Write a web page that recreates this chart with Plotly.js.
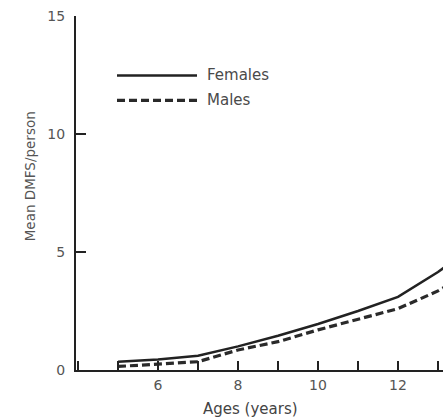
<!DOCTYPE html>
<html>
<head>
<meta charset="utf-8">
<script src="https://cdn.plot.ly/plotly-3.0.1.min.js"></script>
<style>html,body{margin:0;padding:0;background:#fff;overflow:hidden}#chart{width:443px;height:419px}</style>
</head>
<body>
<div id="chart"></div>
<script>
// Data
const ages = [5, 6, 7, 8, 9, 10, 11, 12, 13, 13.2];
const females = [0.35, 0.45, 0.6, 1.0, 1.45, 1.95, 2.5, 3.1, 4.15, 4.4];
const males = [0.15, 0.25, 0.35, 0.85, 1.2, 1.7, 2.15, 2.6, 3.35, 3.55];
const seriesNames = ['Females', 'Males'];
const xTickVals = [4, 5, 6, 7, 8, 9, 10, 11, 12, 13];
const xTickText = ['', '', '6', '', '8', '', '10', '', '12', ''];
const yTickVals = [0, 5, 10, 15];
const xTitle = 'Ages (years)';
const yTitle = 'Mean DMFS/person';

const fam = 'DejaVu Sans, Verdana, sans-serif';
const tickFont = {family: fam, size: 14, color: '#555'};
const W = 443, H = 419;
const m = {l: 76, r: 0, t: 15.5, b: 49};
const pw = W - m.l - m.r, ph = H - m.t - m.b;
const px = x => (x - m.l) / pw;           // pixel -> paper x
const py = y => (H - m.b - y) / ph;       // pixel -> paper y

const traces = [
  {x: ages, y: females, name: seriesNames[0], mode: 'lines', line: {color: '#222', width: 2.5}},
  {x: ages, y: males, name: seriesNames[1], mode: 'lines', line: {color: '#2a2a2a', width: 3.2, dash: '8px,4px'}}
];

const layout = {
  width: W, height: H,
  margin: m,
  paper_bgcolor: '#fff', plot_bgcolor: '#fff',
  showlegend: false,
  font: tickFont,
  xaxis: {
    range: [3.95, 13.125], showgrid: false, zeroline: false,
    showline: true, linecolor: '#222', linewidth: 2,
    tickmode: 'array', tickvals: xTickVals, ticktext: xTickText,
    ticks: 'inside', ticklen: 9, tickwidth: 2, tickcolor: '#222',
    tickfont: tickFont, ticklabelstandoff: 1
  },
  yaxis: {
    range: [0, 15], showgrid: false, zeroline: false,
    showline: true, linecolor: '#222', linewidth: 2,
    tickmode: 'array', tickvals: yTickVals,
    ticks: 'inside', ticklen: 10, tickwidth: 2, tickcolor: '#222',
    tickfont: tickFont, ticklabelstandoff: 6
  },
  shapes: [
    {type: 'line', xref: 'paper', yref: 'paper', x0: px(117), x1: px(197), y0: py(75), y1: py(75), line: {color: '#222', width: 2.5}},
    {type: 'line', xref: 'paper', yref: 'paper', x0: px(117), x1: px(197), y0: py(100), y1: py(100), line: {color: '#2a2a2a', width: 3.2, dash: '8px,4px'}}
  ],
  annotations: [
    {text: seriesNames[0], xref: 'paper', yref: 'paper', x: px(205), y: py(74.5), xanchor: 'left', yanchor: 'middle', showarrow: false, font: {family: fam, size: 15, color: '#4a4a4a'}},
    {text: seriesNames[1], xref: 'paper', yref: 'paper', x: px(205), y: py(99.5), xanchor: 'left', yanchor: 'middle', showarrow: false, font: {family: fam, size: 15, color: '#4a4a4a'}},
    {text: xTitle, xref: 'paper', yref: 'paper', x: px(250), y: py(409), xanchor: 'center', yanchor: 'middle', showarrow: false, font: {family: fam, size: 15, color: '#444'}},
    {text: yTitle, xref: 'paper', yref: 'paper', x: px(30), y: py(176), xanchor: 'center', yanchor: 'middle', textangle: -90, showarrow: false, font: {family: fam, size: 13.5, color: '#555'}}
  ]
};

Plotly.newPlot('chart', traces, layout, {staticPlot: true, displayModeBar: false});
</script>
</body>
</html>
